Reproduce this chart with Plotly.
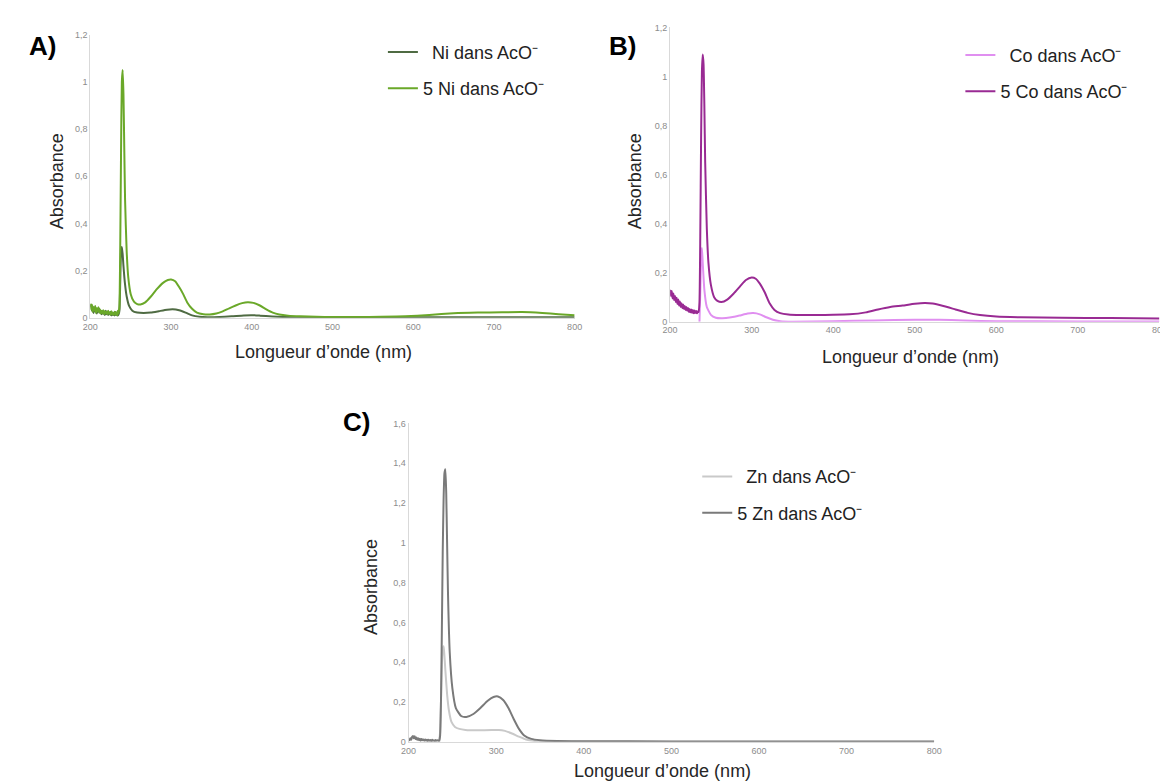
import plotly.graph_objects as go

W, H = 1168, 781

# ---------------- data ----------------
noise_wl = list(range(200, 236))

# Panel A - Ni
ni_wl = noise_wl + [236, 237, 238, 239, 240, 241, 243, 245, 248, 252, 258, 266, 275, 285, 295, 302,
                    310, 318, 326, 335, 345, 360, 375, 390, 400, 410, 425, 440, 480, 600, 700, 800]
ni_abs = [0.045, 0.055, 0.030, 0.048, 0.020, 0.042, 0.028, 0.040, 0.018, 0.035, 0.025, 0.038,
          0.020, 0.030, 0.015, 0.028, 0.018, 0.025, 0.012, 0.030, 0.015, 0.025, 0.012, 0.022,
          0.015, 0.025, 0.010, 0.022, 0.012, 0.020, 0.010, 0.024, 0.012, 0.018, 0.010, 0.015,
          0.030, 0.150, 0.280, 0.300, 0.270, 0.220, 0.140, 0.090, 0.050, 0.030, 0.022, 0.020,
          0.022, 0.028, 0.034, 0.036, 0.032, 0.022, 0.010, 0.004, 0.002, 0.003, 0.006, 0.010,
          0.011, 0.009, 0.005, 0.003, 0.002, 0.002, 0.002, 0.002]

ni5_wl = noise_wl + [236, 237, 238, 239, 240, 241, 242, 243, 245, 247, 250, 254, 258, 262, 268, 275,
                     282, 290, 296, 300, 305, 310, 315, 320, 326, 332, 340, 348, 356, 364, 372, 380,
                     388, 395, 402, 410, 418, 426, 434, 445, 460, 480, 500, 530, 560, 590, 620, 650,
                     680, 710, 735, 760, 780, 800]
ni5_abs = [0.060, 0.035, 0.055, 0.025, 0.045, 0.030, 0.050, 0.020, 0.040, 0.028, 0.045, 0.022,
           0.035, 0.018, 0.030, 0.020, 0.032, 0.015, 0.028, 0.020, 0.025, 0.015, 0.030, 0.018,
           0.022, 0.012, 0.028, 0.015, 0.020, 0.012, 0.025, 0.015, 0.022, 0.010, 0.030, 0.018,
           0.050, 0.300, 0.700, 1.000, 1.050, 0.950, 0.720, 0.500, 0.280, 0.170, 0.100, 0.068,
           0.058, 0.056, 0.065, 0.090, 0.120, 0.148, 0.160, 0.162, 0.155, 0.130, 0.100, 0.065,
           0.038, 0.022, 0.015, 0.014, 0.018, 0.027, 0.040, 0.052, 0.062, 0.066, 0.063, 0.052,
           0.036, 0.022, 0.014, 0.009, 0.006, 0.004, 0.003, 0.003, 0.004, 0.006, 0.012, 0.019,
           0.022, 0.023, 0.024, 0.020, 0.015, 0.011]

# Panel B - Co
co_wl = [236, 237, 238, 239, 240, 242, 245, 250, 256, 264, 275, 285, 295, 302, 310, 318, 326,
         335, 350, 400, 450, 500, 530, 560, 600, 700, 800]
co_abs = [0.000, 0.120, 0.260, 0.300, 0.240, 0.130, 0.060, 0.028, 0.016, 0.014, 0.018, 0.025,
          0.033, 0.035, 0.030, 0.018, 0.008, 0.002, 0.000, 0.002, 0.005, 0.008, 0.008, 0.005,
          0.002, 0.001, 0.001]

co5_wl = noise_wl + [236, 237, 238, 239, 240, 241, 242, 243, 245, 247, 250, 254, 258, 263, 270, 278,
                     286, 293, 300, 305, 310, 316, 322, 328, 335, 345, 360, 380, 400, 420, 440, 455,
                     470, 485, 500, 512, 522, 535, 550, 565, 580, 600, 630, 680, 740, 800]
co5_abs = [0.130, 0.105, 0.125, 0.095, 0.115, 0.088, 0.105, 0.080, 0.098, 0.072, 0.090, 0.066,
           0.082, 0.060, 0.075, 0.055, 0.070, 0.052, 0.064, 0.048, 0.060, 0.045, 0.056, 0.040,
           0.052, 0.038, 0.050, 0.036, 0.048, 0.034, 0.046, 0.036, 0.044, 0.034, 0.042, 0.040,
           0.080, 0.350, 0.750, 1.020, 1.090, 1.050, 0.880, 0.650, 0.380, 0.240, 0.150, 0.100,
           0.085, 0.080, 0.090, 0.115, 0.145, 0.170, 0.180, 0.175, 0.155, 0.120, 0.075, 0.048,
           0.035, 0.029, 0.027, 0.027, 0.028, 0.030, 0.038, 0.050, 0.060, 0.066, 0.073, 0.076,
           0.074, 0.064, 0.050, 0.036, 0.027, 0.021, 0.018, 0.016, 0.015, 0.013]

# Panel C - Zn
zn_wl = [235, 236, 237, 238, 239, 240, 241, 242, 244, 246, 249, 253, 258, 265, 280, 295, 303,
         310, 318, 326, 334, 342, 355, 400, 800]
zn_abs = [0.000, 0.050, 0.200, 0.380, 0.470, 0.480, 0.430, 0.360, 0.240, 0.160, 0.100, 0.075,
          0.065, 0.060, 0.058, 0.059, 0.060, 0.055, 0.042, 0.026, 0.012, 0.005, 0.002, 0.001,
          0.001]

zn5_wl = noise_wl + [236, 237, 238, 239, 240, 241, 242, 243, 244, 245, 247, 250, 254, 260, 266, 274,
                     282, 290, 297, 302, 308, 314, 320, 326, 332, 340, 350, 370, 400, 500, 800]
zn5_abs = [0.012, 0.008, 0.018, 0.010, 0.025, 0.030, 0.018, 0.028, 0.014, 0.022, 0.010, 0.018,
           0.008, 0.015, 0.006, 0.014, 0.008, 0.012, 0.005, 0.012, 0.006, 0.010, 0.004, 0.011,
           0.005, 0.009, 0.004, 0.010, 0.005, 0.008, 0.004, 0.009, 0.005, 0.008, 0.006, 0.007,
           0.030, 0.200, 0.550, 0.950, 1.220, 1.350, 1.370, 1.250, 1.000, 0.750, 0.450, 0.270,
           0.170, 0.130, 0.125, 0.140, 0.170, 0.205, 0.225, 0.228, 0.210, 0.170, 0.115, 0.065,
           0.032, 0.015, 0.008, 0.004, 0.003, 0.002, 0.002]

x_ticks = [200, 300, 400, 500, 600, 700, 800]


def px(x):
    return x / W


def py(y):
    return 1 - y / H


fig = go.Figure()

series = [
    (ni_wl, ni_abs, "\u2002Ni dans AcO\u207b", "#4f6b43", "x", "y", "legend"),
    (ni5_wl, ni5_abs, "5 Ni dans AcO\u207b", "#6aa829", "x", "y", "legend"),
    (co_wl, co_abs, "\u2002Co dans AcO\u207b", "#e08ff0", "x2", "y2", "legend2"),
    (co5_wl, co5_abs, "5 Co dans AcO\u207b", "#992a93", "x2", "y2", "legend2"),
    (zn_wl, zn_abs, "\u2002Zn dans AcO\u207b", "#c9c9c9", "x3", "y3", "legend3"),
    (zn5_wl, zn5_abs, "5 Zn dans AcO\u207b", "#7a7a7a", "x3", "y3", "legend3"),
]
for i, (wl, ab, name, color, xa, ya, lg) in enumerate(series):
    fig.add_trace(go.Scatter(
        x=wl, y=ab, mode="lines", name=name,
        line=dict(color=color, width=2, shape="spline", smoothing=0.5),
        xaxis=xa, yaxis=ya, legend=lg, legendgroup=f"g{i}",
    ))

tick_font = dict(family="Liberation Sans, Arial", size=9, color="#8c8c8c")
xax = dict(range=[200, 800], tickvals=x_ticks, showgrid=False, zeroline=False,
           showline=True, linecolor="#d9d9d9", linewidth=1, ticks="", tickfont=tick_font,
           fixedrange=True)
yax = dict(showgrid=False, zeroline=False, showline=True, linecolor="#d9d9d9", linewidth=1,
           ticks="", tickfont=tick_font, dtick=0.2)

fig.update_layout(
    xaxis=dict(xax, domain=[px(75.4), px(566.4)], anchor="y"),
    yaxis=dict(yax, domain=[py(308.7), py(22)], range=[0, 1.2], anchor="x"),
    xaxis2=dict(xax, domain=[px(663.2), px(1159.3)], anchor="y2"),
    yaxis2=dict(yax, domain=[py(312.7), py(14.6)], range=[0, 1.2], anchor="x2"),
    xaxis3=dict(xax, domain=[px(398), px(931)], anchor="y3"),
    yaxis3=dict(yax, domain=[py(738.3), py(415.7)], range=[0, 1.6], anchor="x3"),
)

legend_style = dict(xanchor="left", yanchor="top", bgcolor="rgba(0,0,0,0)", borderwidth=0,
                    font=dict(family="Liberation Sans, Arial", size=18, color="#222222"),
                    tracegroupgap=10)
fig.update_layout(
    legend=dict(legend_style, x=px(372), y=py(21)),
    legend2=dict(legend_style, x=px(957.5), y=py(24)),
    legend3=dict(legend_style, x=px(690.7), y=py(451)),
)

title_font = dict(family="Liberation Sans, Arial", size=18, color="#262626")
annotations = [
    dict(text="Absorbance", x=px(41), y=py(170), textangle=-90),
    dict(text="Longueur d’onde (nm)", x=px(312), y=py(343)),
    dict(text="Absorbance", x=px(627), y=py(170), textangle=-90),
    dict(text="Longueur d’onde (nm)", x=px(907), y=py(348)),
    dict(text="Absorbance", x=px(359.7), y=py(581.7), textangle=-90),
    dict(text="Longueur d’onde (nm)", x=px(655), y=py(768)),
]
for a in annotations:
    fig.add_annotation(a, xref="paper", yref="paper", showarrow=False,
                       xanchor="center", yanchor="middle", font=title_font)

label_font = dict(family="Liberation Sans, Arial", size=26, color="#000000")
for txt, x, y in [("A)", 11, 33), ("B)", 599, 33), ("C)", 330, 414)]:
    fig.add_annotation(text=f"<b>{txt}</b>", x=px(x), y=py(y), xref="paper", yref="paper",
                       showarrow=False, xanchor="left", yanchor="middle", font=label_font)

fig.update_layout(
    width=W, height=H,
    margin=dict(l=0, r=0, t=0, b=0),
    paper_bgcolor="white", plot_bgcolor="white",
    separators=", ",
    showlegend=True,
)

fig.write_html("out.html")
